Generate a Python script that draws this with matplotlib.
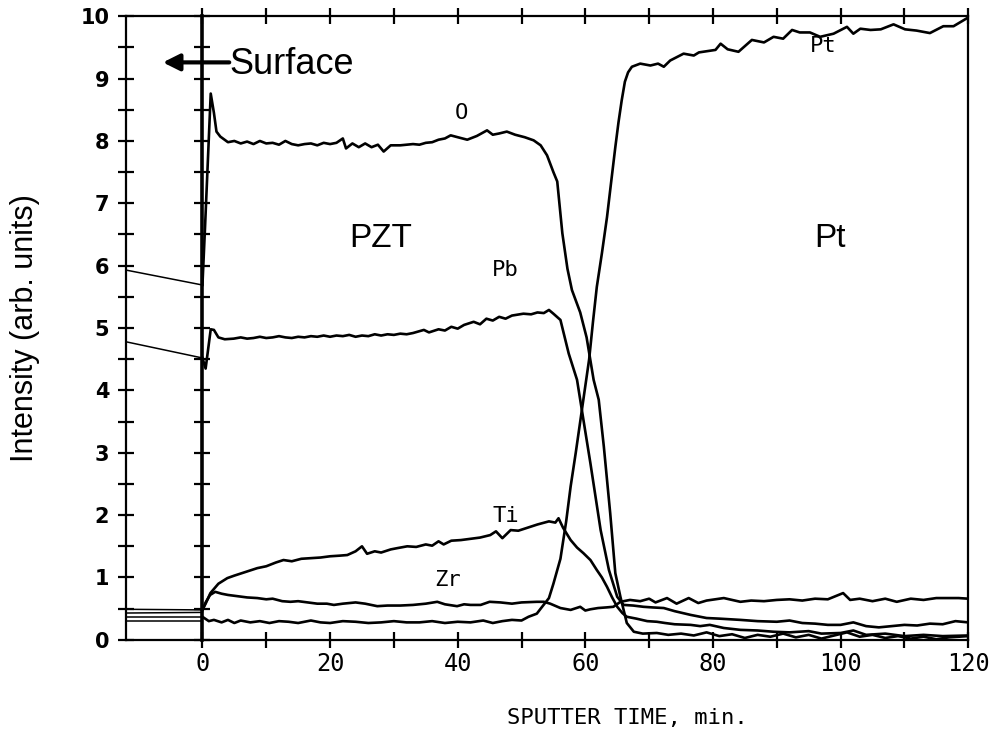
import matplotlib
matplotlib.use("Agg")
import matplotlib.pyplot as plt
from matplotlib.ticker import MultipleLocator, FixedLocator, FuncFormatter

# ---------------- data ----------------
x_ticks = [0, 10, 20, 30, 40, 50, 60, 70, 80, 90, 100, 110, 120]
x_ticklabels = ["0", "", "20", "", "40", "", "60", "", "80", "", "100", "", "120"]
y_ticks = [0, 1, 2, 3, 4, 5, 6, 7, 8, 9, 10]

left_x = [-12, 0]
left_O = [5.93, 5.69]
left_Pb = [4.78, 4.52]
left_Zr = [0.49, 0.48]
left_Ti = [0.43, 0.44]
left_Pt = [0.36, 0.36]
left_bg = [0.30, 0.30]

O_x = [0, 0.4, 1.3, 1.8, 2.2, 2.8, 4, 5, 6, 7, 8, 9, 10, 11, 12, 13, 14, 15, 16, 17, 18, 19, 20, 21,
       22, 22.5, 23.5, 24.5, 25.5, 26.5, 27.5, 28.4, 29.5, 31, 32, 33, 34, 35, 36, 37, 38, 38.9, 40,
       41.5, 43, 44.6, 45.5, 46.5, 47.7, 49, 50.5, 51.9, 53, 54, 55, 55.6, 56.4, 57.2, 57.9, 59.2,
       60.2, 61.3, 62.1, 62.9, 63.9, 64.7, 65.5, 66.5, 67.6, 69, 71.2, 73, 75, 77, 79, 81, 83, 85,
       87, 89, 91, 93, 95, 97, 99, 101, 103, 105, 107, 109, 111, 113, 115, 117, 120]
O_y = [5.69, 6.6, 8.76, 8.45, 8.15, 8.07, 7.98, 8.0, 7.96, 7.99, 7.95, 8.0, 7.96, 7.97, 7.94, 8.0,
       7.95, 7.93, 7.95, 7.96, 7.93, 7.97, 7.95, 7.97, 8.04, 7.88, 7.96, 7.9, 7.96, 7.9, 7.94, 7.83,
       7.93, 7.93, 7.94, 7.95, 7.94, 7.97, 7.98, 8.02, 8.04, 8.09, 8.06, 8.02, 8.08, 8.17, 8.1, 8.12,
       8.15, 8.1, 8.06, 8.01, 7.93, 7.77, 7.5, 7.35, 6.52, 5.95, 5.61, 5.25, 4.85, 4.17, 3.85, 3.1,
       2.03, 1.07, 0.69, 0.27, 0.13, 0.1, 0.11, 0.08, 0.1, 0.07, 0.12, 0.06, 0.09, 0.03, 0.08, 0.05,
       0.1, 0.04, 0.08, 0.02, 0.07, 0.12, 0.05, 0.08, 0.03, 0.06, 0.02, 0.05, 0.01, 0.04, 0.06]

Pb_x = [0, 0.5, 1.3, 1.8, 2.5, 3.5, 4.9, 6, 7, 8, 9, 10, 11, 12, 13, 14, 15, 16, 17, 18, 19, 20,
        21, 22, 23, 24, 25, 26, 27, 28, 29, 30, 31, 32, 33, 34.7, 35.5, 37, 38, 39, 40, 41, 42.5,
        43.5, 44.5, 45.5, 46.5, 47.5, 48.5, 50.3, 51.5, 52.5, 53.5, 54.3, 55, 56.1, 57.4, 58.7,
        59.7, 60.8, 62.4, 63.7, 65, 66, 67.5, 69.1, 70.5, 72.3, 74, 76.5, 79, 81, 84.3, 87, 90, 92,
        94, 96, 98, 100, 102, 104, 106, 108, 110, 112, 114, 116, 118, 120]
Pb_y = [4.52, 4.35, 4.98, 4.97, 4.85, 4.82, 4.83, 4.85, 4.83, 4.84, 4.86, 4.84, 4.85, 4.87, 4.85,
        4.84, 4.86, 4.85, 4.87, 4.86, 4.88, 4.86, 4.88, 4.87, 4.89, 4.86, 4.88, 4.87, 4.9, 4.88,
        4.9, 4.89, 4.91, 4.9, 4.92, 4.97, 4.93, 4.98, 4.96, 5.02, 4.99, 5.05, 5.1, 5.06, 5.15, 5.12,
        5.18, 5.15, 5.2, 5.23, 5.22, 5.25, 5.24, 5.29, 5.23, 5.13, 4.59, 4.17, 3.53, 2.83, 1.76,
        1.12, 0.69, 0.56, 0.55, 0.53, 0.52, 0.51, 0.46, 0.4, 0.35, 0.34, 0.32, 0.3, 0.29, 0.31,
        0.27, 0.26, 0.24, 0.24, 0.28, 0.22, 0.2, 0.22, 0.24, 0.23, 0.26, 0.25, 0.3, 0.28]

Ti_x = [0, 0.5, 1.25, 2.5, 3.9, 5, 6.5, 8.6, 10, 11.5, 12.7, 14, 15.5, 17, 18.5, 20, 21.5, 22.7, 24,
        25, 25.8, 27, 28, 29.5, 30.5, 32.1, 33.5, 35, 36, 37, 37.8, 39, 40.5, 42, 43.5, 45.1, 46,
        47, 48.3, 49.5, 51, 52.5, 54.3, 55.3, 55.8, 56.5, 57.7, 58.7, 59.7, 60.8, 61.8, 62.6, 63.4,
        64.2, 65, 65.8, 66.5, 68, 69.7, 71.2, 72.5, 74, 76.5, 78, 79.5, 81.7, 84.3, 87, 89.5, 92,
        95, 97, 100, 102, 104, 107, 110, 113, 116, 120]
Ti_y = [0.48, 0.58, 0.75, 0.9, 0.99, 1.03, 1.08, 1.15, 1.18, 1.24, 1.28, 1.26, 1.3, 1.31, 1.32,
        1.34, 1.35, 1.36, 1.42, 1.5, 1.38, 1.42, 1.4, 1.45, 1.47, 1.5, 1.49, 1.53, 1.51, 1.58, 1.53,
        1.59, 1.6, 1.62, 1.64, 1.68, 1.74, 1.63, 1.76, 1.75, 1.8, 1.85, 1.9, 1.88, 1.95, 1.8, 1.6,
        1.48, 1.39, 1.28, 1.12, 1.0, 0.85, 0.68, 0.53, 0.43, 0.37, 0.34, 0.3, 0.29, 0.27, 0.25,
        0.24, 0.22, 0.24, 0.19, 0.16, 0.15, 0.13, 0.12, 0.14, 0.1, 0.11, 0.15, 0.08, 0.1, 0.06,
        0.08, 0.06, 0.07]

Zr_x = [0, 0.5, 1.2, 2, 3, 4, 5.5, 7, 8.6, 10, 11, 12.5, 13.8, 15, 16.5, 18, 19.5, 20.6, 22, 24,
        25.5, 27.4, 29, 31, 33, 35, 36.8, 38, 39.9, 41, 42, 43.6, 45, 46.7, 48.5, 50, 52.4, 53.5,
        54.5, 56.1, 57.7, 59.2, 60, 60.8, 62, 63.3, 64.4, 65.5, 67, 68.6, 70, 71, 72.8, 74.3, 76.2,
        77.7, 79, 81.7, 84.3, 86, 88, 90, 92, 94, 96, 98, 100.4, 101.5, 103, 105, 107, 108.8, 111,
        113, 115, 117, 118.5, 120]
Zr_y = [0.48, 0.6, 0.72, 0.77, 0.74, 0.72, 0.7, 0.68, 0.67, 0.65, 0.66, 0.62, 0.61, 0.62, 0.6,
        0.58, 0.58, 0.56, 0.58, 0.6, 0.58, 0.54, 0.55, 0.55, 0.56, 0.58, 0.61, 0.57, 0.54, 0.57,
        0.56, 0.56, 0.61, 0.6, 0.58, 0.6, 0.61, 0.61, 0.58, 0.51, 0.48, 0.53, 0.47, 0.49, 0.51,
        0.52, 0.53, 0.61, 0.64, 0.62, 0.66, 0.6, 0.67, 0.58, 0.67, 0.59, 0.63, 0.67, 0.61, 0.63,
        0.62, 0.64, 0.65, 0.63, 0.66, 0.65, 0.75, 0.64, 0.66, 0.62, 0.66, 0.61, 0.66, 0.64, 0.67,
        0.67, 0.67, 0.66]

Pt_x = [0, 1, 1.8, 3, 4, 5, 6, 7.5, 9, 10.5, 12, 13.5, 15, 17, 18.5, 20, 22, 24, 26, 28, 30, 32,
        34, 36, 38, 40, 42, 44, 45.5, 47, 48.5, 50, 51.1, 52.4, 53, 54.3, 55, 56.1, 57, 57.7, 58.5,
        59.2, 59.9, 60.6, 61.2, 61.8, 62.6, 63.4, 64.0, 64.7, 65.2, 65.7, 66.2, 66.7, 67.3, 68.6,
        70.2, 71.4, 72.3, 73.3, 75.4, 77, 77.8, 80.4, 81.2, 82.3, 84, 86.1, 88, 89.5, 91, 92.4,
        93.6, 95.2, 96.8, 98.9, 101, 102, 103.1, 104.7, 106.3, 108.3, 110.1, 111.9, 114, 116.1,
        117.7, 120]
Pt_y = [0.37, 0.3, 0.32, 0.28, 0.32, 0.27, 0.31, 0.28, 0.3, 0.27, 0.3, 0.29, 0.27, 0.31, 0.28,
        0.27, 0.3, 0.29, 0.27, 0.28, 0.3, 0.28, 0.28, 0.3, 0.27, 0.29, 0.28, 0.31, 0.27, 0.3, 0.32,
        0.31, 0.37, 0.42, 0.5, 0.67, 0.9, 1.3, 1.9, 2.46, 3.0, 3.5, 4.0, 4.5, 5.1, 5.66, 6.2, 6.78,
        7.3, 7.9, 8.3, 8.65, 8.95, 9.1, 9.19, 9.24, 9.21, 9.24, 9.19, 9.29, 9.4, 9.37, 9.42, 9.46,
        9.56, 9.47, 9.43, 9.62, 9.58, 9.67, 9.64, 9.78, 9.74, 9.74, 9.67, 9.72, 9.83, 9.72, 9.8,
        9.78, 9.79, 9.87, 9.79, 9.77, 9.73, 9.84, 9.84, 9.98]

# ---------------- figure ----------------
plt.rcParams['font.family'] = ['DejaVu Sans']
fig = plt.figure(figsize=(9.91, 7.38), dpi=100)
ax = fig.add_axes([0.127, 0.133, 0.850, 0.845])

lw = 1.9
ax.plot(O_x, O_y, color='black', lw=lw)
ax.plot(Pb_x, Pb_y, color='black', lw=lw)
ax.plot(Ti_x, Ti_y, color='black', lw=lw)
ax.plot(Zr_x, Zr_y, color='black', lw=lw)
ax.plot(Pt_x, Pt_y, color='black', lw=lw)
for yy in (left_O, left_Pb, left_Zr, left_Ti, left_Pt, left_bg):
    ax.plot(left_x, yy, color='black', lw=1.1)

ax.set_xlim(-12, 120)
ax.set_ylim(0, 10)

for s in ax.spines.values():
    s.set_linewidth(1.6)

ax.xaxis.set_major_locator(FixedLocator(x_ticks))
ax.xaxis.set_major_formatter(FuncFormatter(
    lambda v, p: x_ticklabels[x_ticks.index(int(round(v)))] if int(round(v)) in x_ticks else ""))
ax.yaxis.set_major_locator(FixedLocator(y_ticks))
ax.yaxis.set_minor_locator(MultipleLocator(0.5))
ax.tick_params(axis='x', which='major', direction='inout', length=12, width=1.6, top=True,
               pad=3, labelsize=17)
ax.tick_params(axis='y', which='both', direction='inout', length=12, width=1.6, pad=6)
ax.tick_params(axis='y', which='major', labelsize=15)
for lab in ax.get_yticklabels():
    lab.set_fontweight('bold')
for lab in ax.get_xticklabels():
    lab.set_family('DejaVu Sans Mono')

# vertical axis at x = 0 with crossing ticks
sec = ax.secondary_yaxis(0.0, transform=ax.transData)
sec.spines['left'].set_linewidth(2.6)
sec.yaxis.set_major_locator(MultipleLocator(0.5))
sec.tick_params(direction='inout', length=12, width=1.6, labelleft=False)

# texts
ax.set_ylabel('Intensity (arb. units)', family='Liberation Sans', fontsize=22, labelpad=29)
fig.text(0.633, 0.027, 'SPUTTER TIME, min.', family='DejaVu Sans Mono', fontsize=16,
         ha='center', va='center')
ax.text(27.9, 6.44, 'PZT', family='Liberation Sans', fontsize=24, ha='center', va='center')
ax.text(98.4, 6.44, 'Pt', family='Liberation Sans', fontsize=24, ha='center', va='center')
ax.text(4.3, 9.22, 'Surface', family='Liberation Sans', fontsize=26, ha='left', va='center')
ax.annotate('', xy=(-6.2, 9.26), xytext=(4.2, 9.26),
            arrowprops=dict(arrowstyle='-|>', lw=3, color='black', mutation_scale=25,
                            shrinkA=0, shrinkB=0))
small = dict(family='DejaVu Sans Mono', fontsize=16, ha='center', va='center')
ax.text(40.6, 8.45, 'O', **small)
ax.text(47.5, 5.93, 'Pb', **small)
ax.text(47.5, 1.98, 'Ti', **small)
ax.text(38.5, 0.96, 'Zr', **small)
ax.text(97.3, 9.52, 'Pt', **small)

fig.savefig('out.png', dpi=100)
